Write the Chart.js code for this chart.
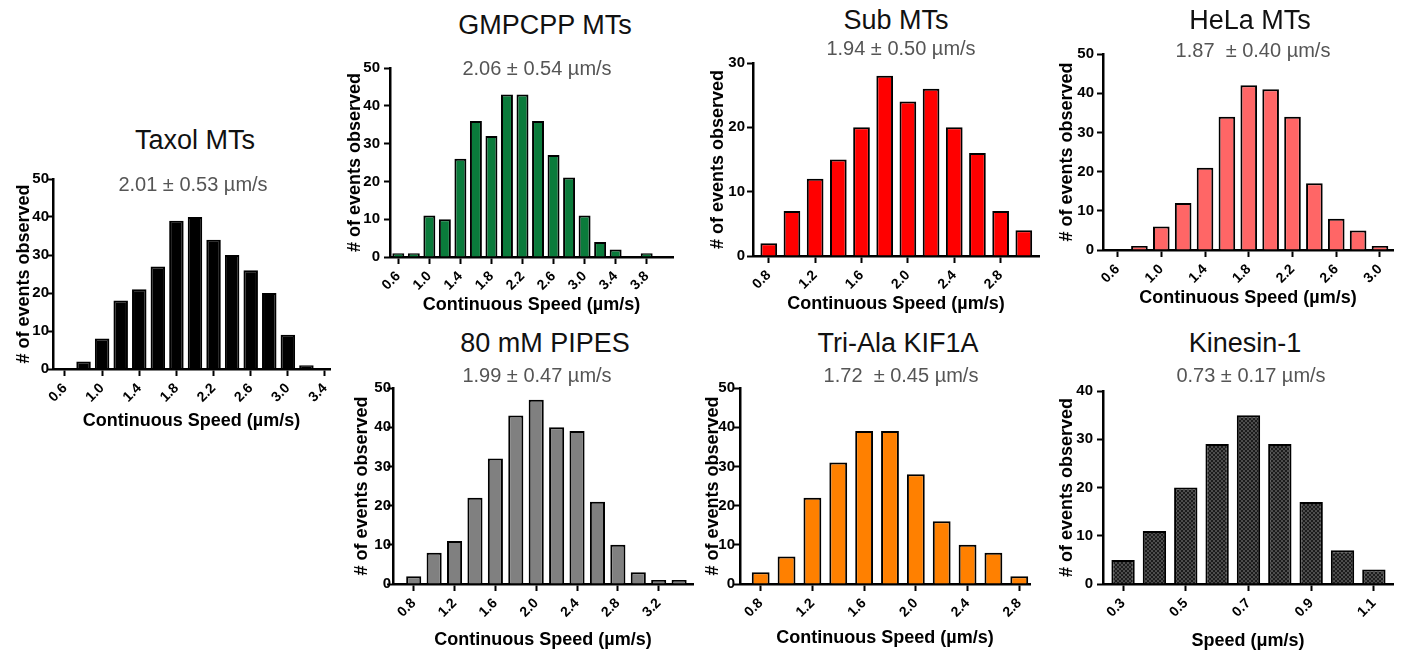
<!DOCTYPE html>
<html>
<head>
<meta charset="utf-8">
<script src="https://cdn.jsdelivr.net/npm/chart.js@4.4.1/dist/chart.umd.min.js"></script>
<style>
  body { margin: 0; width: 1406px; height: 651px; background: #fff; position: relative; overflow: hidden;
         font-family: "Liberation Sans", Arial, Helvetica, sans-serif; }
  canvas { position: absolute; }
  .ttl { position: absolute; transform: translate(-50%, -50%); font-size: 27px; color: #111; white-space: pre; }
  .sub { position: absolute; transform: translate(-50%, -50%); font-size: 20px; color: #555; white-space: pre; }
</style>
</head>
<body>
<script>
// histogram bins (bin centres, µm/s) and counts
var taxolBins   = [0.6, 0.8, 1.0, 1.2, 1.4, 1.6, 1.8, 2.0, 2.2, 2.4, 2.6, 2.8, 3.0, 3.2, 3.4];
var taxolCounts = [0, 2, 8, 18, 21, 27, 39, 40, 34, 30, 26, 20, 9, 1, 0];
var taxolTicks  = [0.6, 1.0, 1.4, 1.8, 2.2, 2.6, 3.0, 3.4];

var gmpcppBins   = [0.6, 0.8, 1.0, 1.2, 1.4, 1.6, 1.8, 2.0, 2.2, 2.4, 2.6, 2.8, 3.0, 3.2, 3.4, 3.6, 3.8];
var gmpcppCounts = [1, 1, 11, 10, 26, 36, 32, 43, 43, 36, 27, 21, 11, 4, 2, 0, 1];
var gmpcppTicks  = [0.6, 1.0, 1.4, 1.8, 2.2, 2.6, 3.0, 3.4, 3.8];

var subBins   = [0.8, 1.0, 1.2, 1.4, 1.6, 1.8, 2.0, 2.2, 2.4, 2.6, 2.8, 3.0];
var subCounts = [2, 7, 12, 15, 20, 28, 24, 26, 20, 16, 7, 4];
var subTicks  = [0.8, 1.2, 1.6, 2.0, 2.4, 2.8];

var helaBins   = [0.6, 0.8, 1.0, 1.2, 1.4, 1.6, 1.8, 2.0, 2.2, 2.4, 2.6, 2.8, 3.0];
var helaCounts = [0, 1, 6, 12, 21, 34, 42, 41, 34, 17, 8, 5, 1];
var helaTicks  = [0.6, 1.0, 1.4, 1.8, 2.2, 2.6, 3.0];

var pipesBins   = [0.8, 1.0, 1.2, 1.4, 1.6, 1.8, 2.0, 2.2, 2.4, 2.6, 2.8, 3.0, 3.2, 3.4];
var pipesCounts = [2, 8, 11, 22, 32, 43, 47, 40, 39, 21, 10, 3, 1, 1];
var pipesTicks  = [0.8, 1.2, 1.6, 2.0, 2.4, 2.8, 3.2];

var trialaBins   = [0.8, 1.0, 1.2, 1.4, 1.6, 1.8, 2.0, 2.2, 2.4, 2.6, 2.8];
var trialaCounts = [3, 7, 22, 31, 39, 39, 28, 16, 10, 8, 2];
var trialaTicks  = [0.8, 1.2, 1.6, 2.0, 2.4, 2.8];

var kinesinBins   = [0.3, 0.4, 0.5, 0.6, 0.7, 0.8, 0.9, 1.0, 1.1];
var kinesinCounts = [5, 11, 20, 29, 35, 29, 17, 7, 3];
var kinesinTicks  = [0.3, 0.5, 0.7, 0.9, 1.1];

var speedTitle = 'Continuous Speed (µm/s)';

// dark checkered fill for the kinesin bars
function checker() {
  var c = document.createElement('canvas');
  c.width = 4; c.height = 4;
  var g = c.getContext('2d');
  g.fillStyle = '#4d4d4d'; g.fillRect(0, 0, 4, 4);
  g.fillStyle = '#1c1c1c'; g.fillRect(0, 0, 2, 2); g.fillRect(2, 2, 2, 2);
  return g.createPattern(c, 'repeat');
}

// box = plot area in page pixels; gap = x title distance below axis,
// yGap = y title distance left of axis, lblGap = y tick label distance from axis
var panels = [
  { title: 'Taxol MTs', sub: '2.01 ± 0.53 µm/s', bins: taxolBins, counts: taxolCounts, ticks: taxolTicks,
    yMax: 50, fill: '#000000', barPct: 0.78, xMin: 0.471, xMax: 3.454, xTitle: speedTitle, gap: 52, yGap: 29, lblGap: 4,
    box: { l: 53, t: 179, r: 330, b: 369 }, tPos: [195, 140], sPos: [193, 184] },
  { title: 'GMPCPP MTs', sub: '2.06 ± 0.54 µm/s', bins: gmpcppBins, counts: gmpcppCounts, ticks: gmpcppTicks,
    yMax: 50, fill: '#0a7b3b', barPct: 0.77, xMin: 0.493, xMax: 4.139, xTitle: speedTitle, gap: 48, yGap: 35, lblGap: 10,
    box: { l: 390, t: 67, r: 673, b: 257 }, tPos: [545, 25], sPos: [537, 68] },
  { title: 'Sub MTs', sub: '1.94 ± 0.50 µm/s', bins: subBins, counts: subCounts, ticks: subTicks,
    yMax: 30, fill: '#ff0000', barPct: 0.72, xMin: 0.664, xMax: 3.131, xTitle: speedTitle, gap: 48, yGap: 35, lblGap: 8,
    box: { l: 753, t: 63, r: 1039, b: 256 }, tPos: [896, 20], sPos: [901, 48] },
  { title: 'HeLa MTs', sub: '1.87  ± 0.40 µm/s', bins: helaBins, counts: helaCounts, ticks: helaTicks,
    yMax: 50, fill: '#ff6666', barPct: 0.76, xMin: 0.467, xMax: 3.119, xTitle: speedTitle, gap: 48, yGap: 36, lblGap: 9,
    box: { l: 1103, t: 54, r: 1393, b: 250 }, tPos: [1250, 20], sPos: [1253, 50] },
  { title: '80 mM PIPES', sub: '1.99 ± 0.47 µm/s', bins: pipesBins, counts: pipesCounts, ticks: pipesTicks,
    yMax: 50, fill: '#808080', barPct: 0.74, xMin: 0.597, xMax: 3.536, xTitle: speedTitle, gap: 56, yGap: 31, lblGap: 2,
    box: { l: 393, t: 388, r: 693, b: 584 }, tPos: [545, 343], sPos: [537, 375] },
  { title: 'Tri-Ala KIF1A', sub: '1.72  ± 0.45 µm/s', bins: trialaBins, counts: trialaCounts, ticks: trialaTicks,
    yMax: 50, fill: '#ff8000', barPct: 0.69, xMin: 0.64, xMax: 2.883, xTitle: speedTitle, gap: 54, yGap: 27, lblGap: 5,
    box: { l: 740, t: 388, r: 1030, b: 584 }, tPos: [898, 343], sPos: [901, 375] },
  { title: 'Kinesin-1', sub: '0.73 ± 0.17 µm/s', bins: kinesinBins, counts: kinesinCounts, ticks: kinesinTicks,
    yMax: 40, fill: checker(), barPct: 0.745, xMin: 0.236, xMax: 1.161, xTitle: 'Speed (μm/s)', gap: 57, yGap: 36, lblGap: 10,
    box: { l: 1103, t: 390, r: 1393, b: 584 }, tPos: [1245, 343], sPos: [1251, 375] }
];

Chart.defaults.font.family = '"Liberation Sans", Arial, Helvetica, sans-serif';
Chart.defaults.color = '#000';

var YW = 50, PT = 12, PR = 16, XH = 70, TICK = 6;

function label(cls, text, pos) {
  var d = document.createElement('div');
  d.className = cls;
  d.textContent = text;
  d.style.left = pos[0] + 'px';
  d.style.top = pos[1] + 'px';
  document.body.appendChild(d);
}

panels.forEach(function(p) {
  var cv = document.createElement('canvas');
  var left = Math.round(p.box.l - YW), top = Math.round(p.box.t - PT);
  var w = Math.round(p.box.r) - left + PR;
  var h = Math.round(p.box.b) - top + XH;
  cv.width = w; cv.height = h;
  cv.style.left = left + 'px'; cv.style.top = top + 'px';
  cv.style.width = w + 'px'; cv.style.height = h + 'px';
  document.body.appendChild(cv);

  label('ttl', p.title, p.tPos);
  label('sub', p.sub, p.sPos);

  new Chart(cv, {
    type: 'bar',
    data: {
      datasets: [{
        data: p.bins.map(function(b, i) { return { x: b, y: p.counts[i] }; }),
        backgroundColor: p.fill,
        borderColor: '#000',
        borderWidth: 2,
        borderSkipped: 'bottom',
        barPercentage: p.barPct,
        categoryPercentage: 1
      }]
    },
    options: {
      responsive: false,
      animation: false,
      layout: { padding: { top: PT, right: PR, left: 0, bottom: 0 } },
      plugins: { legend: { display: false }, tooltip: { enabled: false } },
      scales: {
        x: {
          type: 'linear',
          offset: false,
          min: p.xMin,
          max: p.xMax,
          afterBuildTicks: function(axis) {
            axis.ticks = p.ticks.map(function(v) { return { value: v }; });
          },
          afterFit: function(axis) { axis.height = XH; },
          border: { display: true, color: '#000', width: 2.5 },
          grid: { display: true, offset: false, drawOnChartArea: false, tickLength: 7, tickColor: '#000', tickWidth: 2 },
          ticks: {
            autoSkip: false, minRotation: 45, maxRotation: 45, padding: 4, color: '#000',
            font: { size: 14, weight: 'bold' },
            callback: function(v) { return Number(v).toFixed(1); }
          },
          title: {
            display: true, text: p.xTitle, color: '#000',
            font: { size: 18, weight: 'bold' },
            padding: { top: 0, bottom: XH - p.gap - 10.8 }
          }
        },
        y: {
          min: 0,
          max: p.yMax,
          afterFit: function(axis) { axis.width = YW; },
          border: { display: true, color: '#000', width: 2.5 },
          grid: { drawOnChartArea: false, tickLength: TICK, tickColor: '#000', tickWidth: 2 },
          ticks: { stepSize: 10, padding: p.lblGap - TICK, color: '#000', font: { size: 15, weight: 'bold' } },
          title: {
            display: true, text: '# of events observed', color: '#000',
            font: { size: 18, weight: 'bold' },
            padding: { top: YW - p.yGap - 10.8, bottom: 0 }
          }
        }
      }
    }
  });
});
</script>
</body>
</html>
